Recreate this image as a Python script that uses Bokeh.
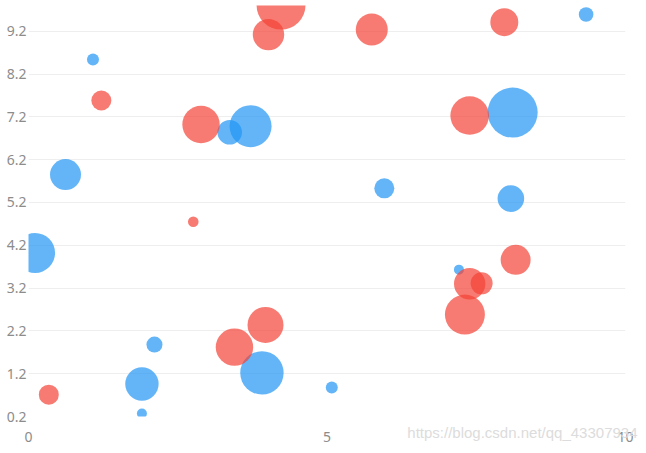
from bokeh.plotting import figure
from bokeh.models import Range1d, FixedTicker, Title
from bokeh.embed import file_html
from bokeh.resources import INLINE

# ---- data ----
blue_x = [1.08, 0.62, 0.11, 3.37, 3.72, 5.96, 9.34, 8.11, 8.08, 7.21, 2.11, 1.90, 1.90, 3.91, 5.08]
blue_y = [8.54, 5.85, 4.02, 6.84, 6.98, 5.53, 9.59, 7.30, 5.29, 3.63, 1.88, 0.96, 0.27, 1.22, 0.88]
blue_v = [6, 15.5, 20, 12.3, 21, 10, 7.3, 25, 13.3, 5, 8, 16.7, 5, 21.7, 6]

red_x = [1.22, 0.34, 4.23, 4.02, 5.75, 7.97, 2.89, 7.39, 2.76, 8.16, 7.39, 7.59, 7.31, 3.97, 3.45]
red_y = [7.58, 0.71, 9.81, 9.12, 9.24, 9.41, 7.02, 7.23, 4.75, 3.86, 3.30, 3.31, 2.58, 2.34, 1.82]
red_v = [10, 10, 24.5, 15.7, 16, 14, 18.7, 19.3, 5.3, 15, 15.7, 11, 20, 18, 18.7]

x_ticks = [0, 5, 10]
y_ticks = [0.2, 1.2, 2.2, 3.2, 4.2, 5.2, 6.2, 7.2, 8.2, 9.2]
watermark = "https://blog.csdn.net/qq_43307934"

SCALE = 2.0  # value -> marker diameter

p = figure(width=646, height=453, output_backend="svg", toolbar_location=None,
           x_range=Range1d(0, 10), y_range=Range1d(0.2, 9.8),
           min_border_left=28, min_border_right=21, min_border_top=5, min_border_bottom=37)
p.outline_line_color = None
p.background_fill_color = "white"
p.border_fill_color = "white"

p.scatter(blue_x, blue_y, size=[v * SCALE for v in blue_v],
          fill_color="#2196F3", fill_alpha=0.7, line_color=None)
p.scatter(red_x, red_y, size=[v * SCALE for v in red_v],
          fill_color="#F44336", fill_alpha=0.7, line_color=None)

p.xaxis.ticker = FixedTicker(ticks=x_ticks)
p.yaxis.ticker = FixedTicker(ticks=y_ticks)
p.yaxis.major_label_overrides = {t: f"{t:.1f}" for t in y_ticks}
for ax in (p.xaxis[0], p.yaxis[0]):
    ax.axis_line_color = None
    ax.major_tick_line_color = None
    ax.minor_tick_line_color = None
    ax.major_tick_out = 0
    ax.major_tick_in = 0
    ax.minor_tick_out = 0
    ax.minor_tick_in = 0
    ax.major_label_text_color = "#8c8c8c"
    ax.major_label_text_font = "Noto Sans"
    ax.major_label_text_font_size = "14px"
p.xaxis.major_label_standoff = 15
p.yaxis.major_label_standoff = 2

# watermark in the bottom-right corner, on the row of the x tick labels
wm = Title(text=watermark, align="right", vertical_align="top", offset=-12, standoff=-42,
           text_color="#dcdcdc", text_font="Liberation Sans", text_font_size="15px",
           text_font_style="normal")
p.add_layout(wm, "below")

p.xgrid.grid_line_color = None
p.ygrid.grid_line_color = "#eeeeee"
p.ygrid.grid_line_width = 1

open("out.html", "w").write(file_html(p, INLINE))
